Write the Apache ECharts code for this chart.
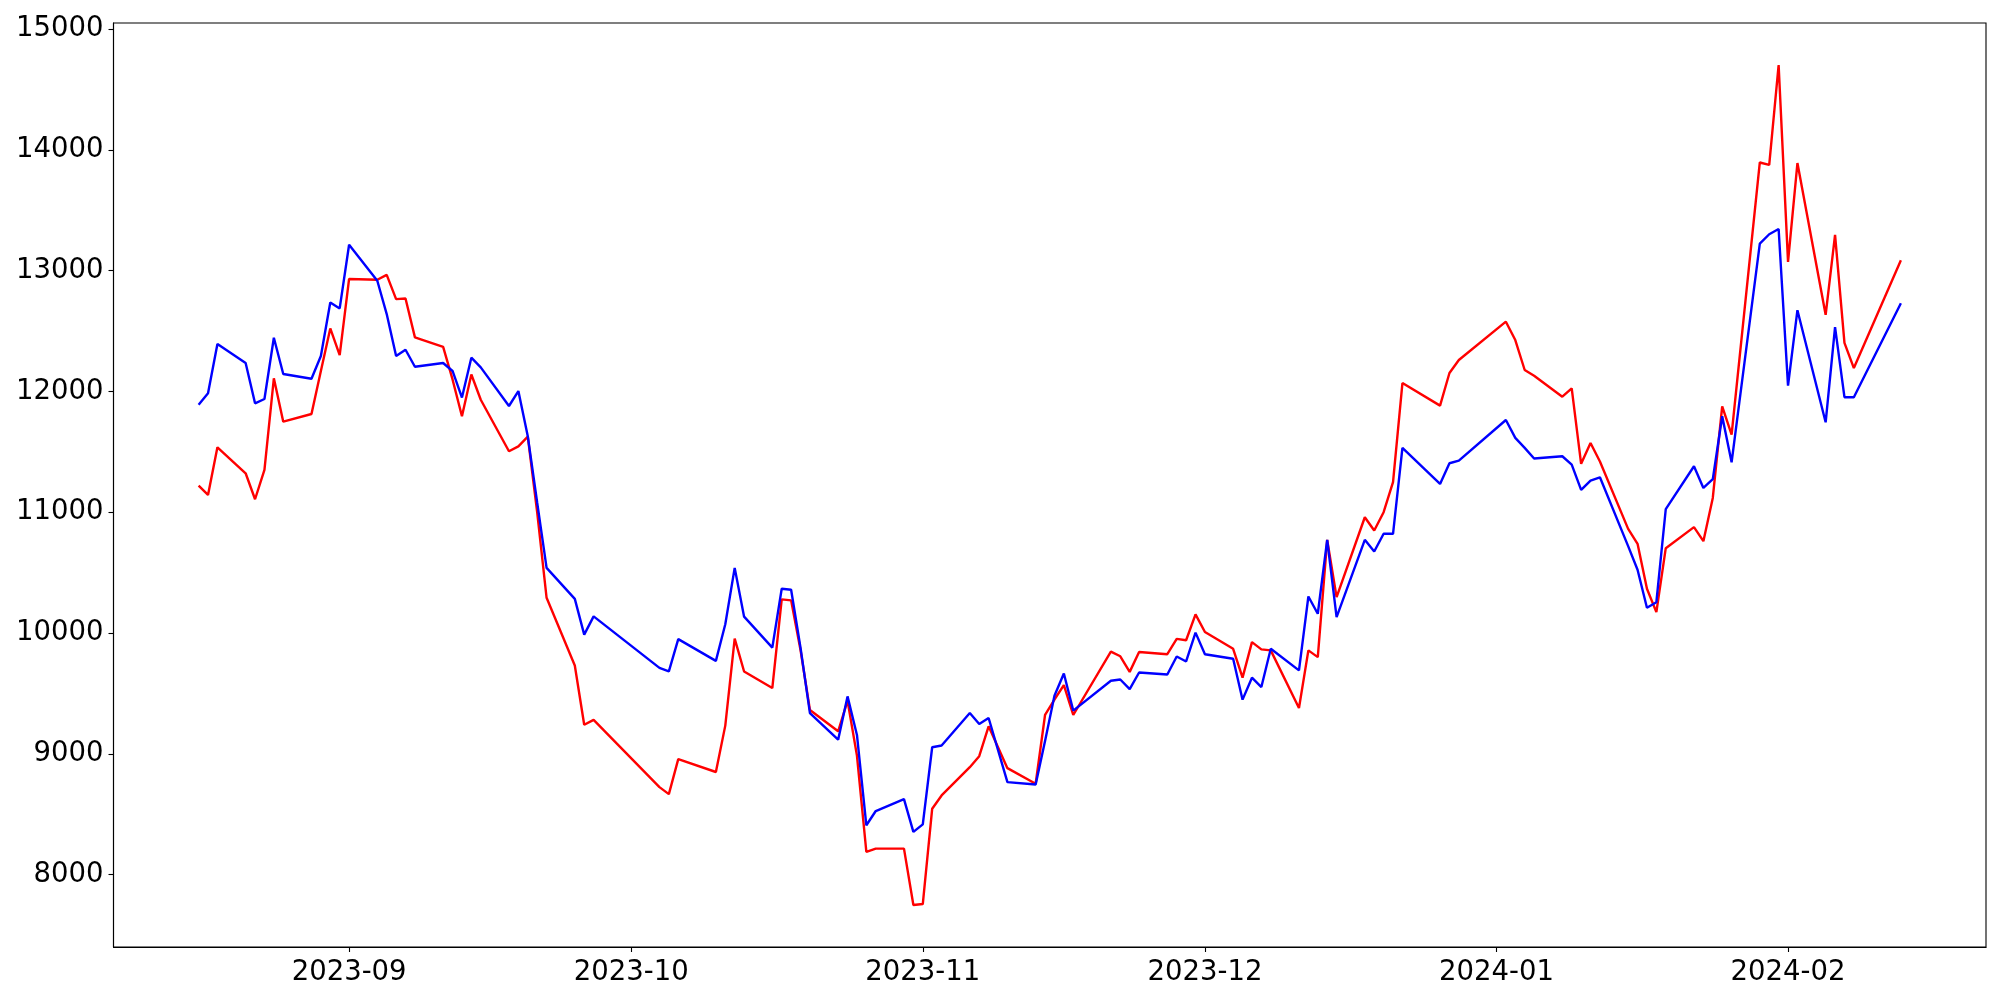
<!DOCTYPE html>
<html><head><meta charset="utf-8">
<script src="https://cdn.jsdelivr.net/npm/echarts@6/dist/echarts.min.js"></script>
<style>html,body{margin:0;padding:0;background:#fff}#c{width:2000px;height:1000px}</style>
</head><body><div id="c"></div>
<script>
const dates = [
 '2023-08-16','2023-08-17','2023-08-18','2023-08-21','2023-08-22','2023-08-23','2023-08-24','2023-08-25','2023-08-28','2023-08-29','2023-08-30','2023-08-31',
 '2023-09-01','2023-09-04','2023-09-05','2023-09-06','2023-09-07','2023-09-08','2023-09-11','2023-09-12','2023-09-13','2023-09-14','2023-09-15','2023-09-18','2023-09-19','2023-09-20','2023-09-21','2023-09-22','2023-09-25','2023-09-26','2023-09-27',
 '2023-10-04','2023-10-05','2023-10-06','2023-10-10','2023-10-11','2023-10-12','2023-10-13','2023-10-16','2023-10-17','2023-10-18','2023-10-19','2023-10-20','2023-10-23','2023-10-24','2023-10-25','2023-10-26','2023-10-27','2023-10-30','2023-10-31',
 '2023-11-01','2023-11-02','2023-11-03','2023-11-06','2023-11-07','2023-11-08','2023-11-10','2023-11-13','2023-11-14','2023-11-15','2023-11-16','2023-11-17','2023-11-21','2023-11-22','2023-11-23','2023-11-24','2023-11-27','2023-11-28','2023-11-29','2023-11-30',
 '2023-12-01','2023-12-04','2023-12-05','2023-12-06','2023-12-07','2023-12-08','2023-12-11','2023-12-12','2023-12-13','2023-12-14','2023-12-15','2023-12-18','2023-12-19','2023-12-20','2023-12-21','2023-12-22','2023-12-26','2023-12-27','2023-12-28',
 '2024-01-02','2024-01-03','2024-01-04','2024-01-05','2024-01-08','2024-01-09','2024-01-10','2024-01-11','2024-01-12','2024-01-15','2024-01-16','2024-01-17','2024-01-18','2024-01-19','2024-01-22','2024-01-23','2024-01-24','2024-01-25','2024-01-26','2024-01-29','2024-01-30','2024-01-31',
 '2024-02-01','2024-02-02','2024-02-05','2024-02-06','2024-02-07','2024-02-08','2024-02-13'
];
const redValues = [
 11221,11144,11538,11323,11108,11351,12109,11750,11814,12170,12522,12302,
 12932,12925,12966,12765,12770,12448,12370,12100,11795,12141,11932,11505,11546,11627,11000,10292,9732,9241,9282,
 8725,8667,8957,8850,9234,9954,9682,9545,10279,10271,9860,9363,9187,9440,8986,8189,8216,8216,7749,
 7757,8546,8656,8890,8981,9228,8882,8753,9322,9450,9569,9322,9847,9808,9679,9844,9825,9952,9941,10155,
 10009,9870,9631,9925,9865,9857,9380,9857,9801,10772,10298,10959,10849,11001,11249,12070,11883,12153,12261,
 12578,12426,12178,12131,11957,12026,11401,11574,11420,10863,10739,10367,10174,10703,10877,10761,11119,11877,11643,13896,13876,14703,
 13073,13891,12635,13296,12403,12194,13087
];
const blueValues = [
 11891,11985,12393,12236,11902,11938,12445,12145,12106,12294,12737,12688,
 13215,12917,12641,12294,12346,12205,12236,12170,11950,12280,12200,11880,12004,11630,11080,10540,10283,9987,10138,
 9712,9683,9950,9770,10073,10540,10136,9880,10367,10359,9880,9338,9118,9476,9157,8409,8527,8626,8354,
 8417,9055,9069,9338,9248,9297,8766,8747,9107,9481,9666,9358,9605,9616,9536,9674,9657,9806,9765,10004,
 9825,9788,9449,9631,9553,9870,9691,10303,10160,10772,10132,10772,10675,10822,10822,11533,11235,11406,11428,
 11764,11616,11533,11445,11464,11395,11185,11263,11290,10720,10524,10210,10256,11026,11381,11202,11274,11795,11414,13224,13302,13345,
 12049,12673,11745,12533,11953,11953,12731
];
const yTicks = [8000, 9000, 10000, 11000, 12000, 13000, 14000, 15000];
const xTicks = ['2023-09-01','2023-10-01','2023-11-01','2023-12-01','2024-01-01','2024-02-01'];

function ts(s){ const p = s.split('-').map(Number); return Date.UTC(p[0], p[1]-1, p[2]); }
const xs = dates.map(ts);
const xMin0 = Math.min(...xs), xMax0 = Math.max(...xs);
const xPad = (xMax0 - xMin0) * 0.05;
const allY = redValues.concat(blueValues);
const yMin0 = Math.min(...allY), yMax0 = Math.max(...allY);
const yPad = (yMax0 - yMin0) * 0.05;
const xTickTs = xTicks.map(ts);

const font = 'DejaVu Sans';
const chart = echarts.init(document.getElementById('c'), null, {renderer: 'canvas'});
chart.setOption({
  animation: false,
  backgroundColor: '#fff',
  grid: {left: 113.5, right: 14, top: 23, bottom: 53, show: true, borderColor: '#000', borderWidth: 1.1, outerBoundsMode: 'none'},
  xAxis: {
    type: 'value',
    min: xMin0 - xPad, max: xMax0 + xPad,
    axisLine: {show: true, lineStyle: {color: '#000', width: 1.1}},
    axisTick: {show: true, length: 5, lineStyle: {color: '#000', width: 1.1}, customValues: xTickTs},
    axisLabel: {customValues: xTickTs, color: '#000', fontFamily: font, fontSize: 27.5, margin: 12,
      formatter: function(v){ const d = new Date(v); return d.getUTCFullYear() + '-' + String(d.getUTCMonth()+1).padStart(2,'0'); }},
    splitLine: {show: false}
  },
  yAxis: {
    type: 'value',
    min: yMin0 - yPad, max: yMax0 + yPad,
    axisLine: {show: true, lineStyle: {color: '#000', width: 1.1}},
    axisTick: {show: true, length: 5, lineStyle: {color: '#000', width: 1.1}, customValues: yTicks},
    axisLabel: {customValues: yTicks, color: '#000', fontFamily: font, fontSize: 27.5, margin: 10,
      formatter: function(v){ return String(Math.round(v)); }},
    splitLine: {show: false}
  },
  series: [
    {type: 'line', data: xs.map((x,i)=>[x, redValues[i]]), showSymbol: false, symbol: 'none', lineStyle: {color: '#ff0000', width: 2.4}, itemStyle: {color: '#ff0000'}},
    {type: 'line', data: xs.map((x,i)=>[x, blueValues[i]]), showSymbol: false, symbol: 'none', lineStyle: {color: '#0000ff', width: 2.4}, itemStyle: {color: '#0000ff'}}
  ]
});
</script></body></html>
